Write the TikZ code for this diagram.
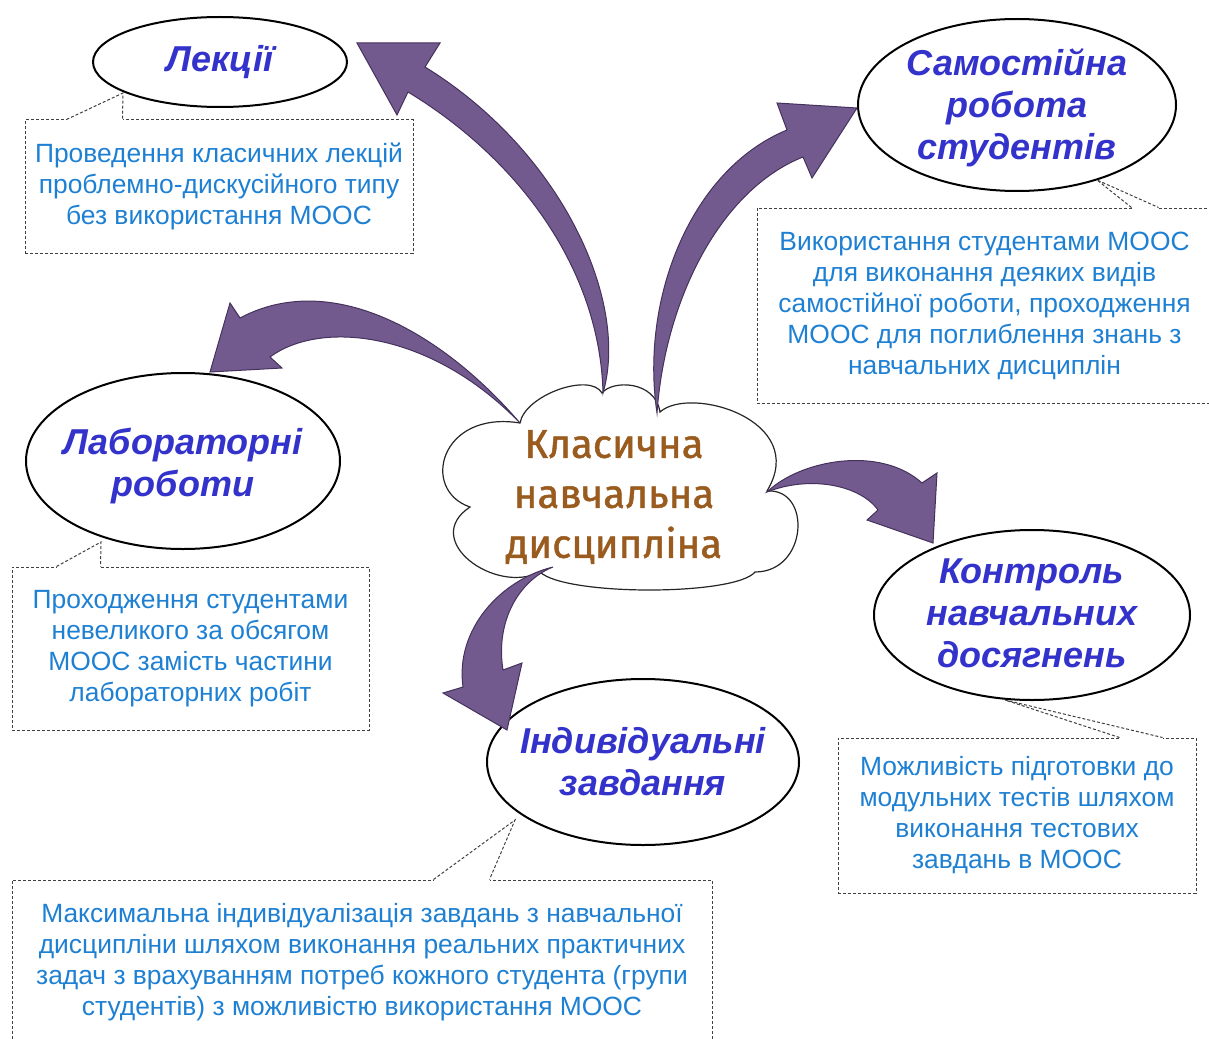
\documentclass[tikz,border=0pt]{standalone}
\usepackage{fontspec}
\setmainfont{Liberation Sans}
\newfontfamily\cloudfont{Fira Sans}[FakeBold=1.2]
\usetikzlibrary{shapes.geometric,calc}
\definecolor{Tc}{HTML}{3333CC}
\definecolor{Nc}{HTML}{1E80D2}
\definecolor{Cc}{HTML}{9A5B1E}
\definecolor{Ac}{HTML}{735A8E}
\definecolor{Ad}{HTML}{44325C}
\tikzset{
  topic/.style={ellipse, draw=black, line width=1pt, fill=white, inner sep=0pt},
  topictxt/.style={font=\fontsize{18}{21}\selectfont\bfseries\itshape, text=Tc, align=center},
  cloudtxt/.style={font=\cloudfont\fontsize{20}{25}\selectfont, text=Cc, align=center},
  puff/.style={draw=black!85, line width=0.6pt, fill=white},
  note/.style={draw=black!75, dash pattern=on 1.5pt off 1pt, line width=0.5pt, inner sep=0pt,
    font=\fontsize{13.2}{15.5}\selectfont, text=Nc, align=center},
  ptr/.style={draw=black!75, dash pattern=on 1.5pt off 1pt, line width=0.5pt},
  gap/.style={draw=white, line width=1.5pt},
  fat/.style={fill=Ac, draw=Ad, line width=0.5pt, line join=miter},
}

\begin{document}
\begin{tikzpicture}[x=0.5pt, y=-0.5pt]
  \useasboundingbox (0,0) rectangle (1209,1038);
  % centre cloud
  \draw[puff] (520,423) .. controls (525,395) and (590,372) .. (602,393)
    .. controls (612,380) and (655,380) .. (660,412)
    .. controls (690,385) and (810,420) .. (767,491)
    .. controls (812,488) and (808,572) .. (755,572)
    .. controls (735,596) and (565,596) .. (540,572)
    .. controls (495,595) and (420,540) .. (470,507)
    .. controls (420,490) and (440,410) .. (520,423) -- cycle;
  \node[cloudtxt] (disc) at (614,497) {Класична\\навчальна\\дисципліна};
  % topics
  \node[topic, minimum width=127pt, minimum height=45pt, label={[topictxt]center:Лекції}] (lec) at (220,62) {};
  \node[topic, minimum width=159pt, minimum height=86pt,
    label={[topictxt, yshift=-1.5pt]center:{Самостійна\\робота\\студентів}}] (self) at (1017,105) {};
  \node[topic, minimum width=157pt, minimum height=88pt,
    label={[topictxt, yshift=-2.5pt]center:{Лабораторні\\роботи}}] (lab) at (183,461) {};
  \node[topic, minimum width=158pt, minimum height=85pt,
    label={[topictxt, yshift=1pt]center:{Контроль\\навчальних\\досягнень}}] (ctrl) at (1032,615) {};
  \node[topic, minimum width=156pt, minimum height=83pt,
    label={[topictxt]center:{Індивідуальні\\завдання}}] (ind) at (643,762) {};
  % arrows
  \draw[fat] (603,393) .. controls (630,300) and (560,150) .. (425,67) -- (440,43) -- (357,43)
    -- (397,115) -- (408,92) .. controls (520,160) and (600,270) .. (603,393) -- cycle;
  \draw[fat] (657,413) .. controls (640,300) and (690,170) .. (787,130) -- (777,103) -- (857,108)
    -- (812,178) -- (803,157) .. controls (720,190) and (665,300) .. (657,413) -- cycle;
  \draw[fat] (520,423) .. controls (440,330) and (330,270) .. (240,318) -- (230,303) -- (210,372)
    -- (282,368) -- (270,357) .. controls (320,320) and (430,330) .. (520,423) -- cycle;
  \draw[fat] (767,492) .. controls (800,460) and (880,445) .. (922,483) -- (937,473) -- (933,543)
    -- (867,520) -- (878,510) .. controls (860,485) and (810,475) .. (767,492) -- cycle;
  \draw[fat] (553,567) .. controls (500,580) and (455,630) .. (463,687) -- (443,693) -- (507,730)
    -- (522,663) -- (503,670) .. controls (495,620) and (520,580) .. (553,567) -- cycle;
  % notes
  \node[note, minimum width=194pt, minimum height=66.5pt] (lecnote) at (219,186.5)
    {Проведення класичних лекцій\\проблемно-дискусійного типу\\без використання МООС};
  \node[note, minimum width=227.5pt, minimum height=97.5pt] (selfnote) at (984.5,305.5)
    {Використання студентами МООС\\для виконання деяких видів\\самостійної роботи, проходження\\МООС для поглиблення знань з\\навчальних дисциплін};
  \node[note, minimum width=178.5pt, minimum height=81.5pt] (labnote) at (190.5,648.5)
    {Проходження студентами\\невеликого за обсягом\\МООС замість частини\\лабораторних робіт};
  \node[note, minimum width=179pt, minimum height=77.5pt] (ctrlnote) at (1017,815.5)
    {Можливість підготовки до\\модульних тестів шляхом\\виконання тестових\\завдань в МООС};
  \node[note, minimum width=350pt, minimum height=82pt] (indnote) at (362,962)
    {Максимальна індивідуалізація завдань з навчальної\\дисципліни шляхом виконання реальних практичних\\задач з врахуванням потреб кожного студента (групи\\студентів) з можливістю використання МООС};
  % pointers
  \coordinate (lecpt) at (123,93);
  \coordinate (selfpt) at (1097,180);
  \coordinate (labpt) at (101,542);
  \coordinate (ctrlpt) at (1005,700);
  \coordinate (indpt) at (515,820);
  \foreach \n/\a/\b in {lec/42/98, self/375/402, lab/45/89, ctrl/282/325, ind/422/478} {
    \draw[gap] ($(\n note.north west)+(\a,0)$) -- ($(\n note.north west)+(\b,0)$);
    \draw[ptr] ($(\n note.north west)+(\a,0)$) -- (\n pt) -- ($(\n note.north west)+(\b,0)$);
  }
\end{tikzpicture}
\end{document}
